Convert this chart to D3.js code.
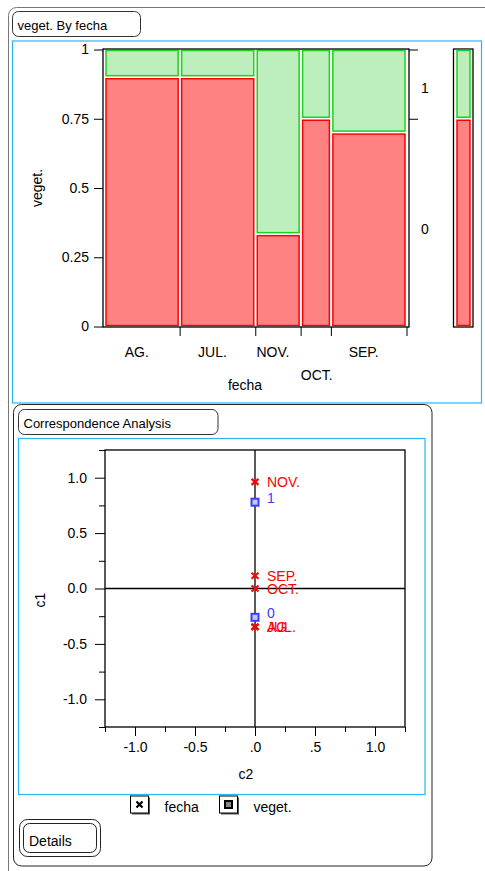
<!DOCTYPE html>
<html>
<head>
<meta charset="utf-8">
<script src="https://cdn.jsdelivr.net/npm/d3@7"></script>
<style>
  body { margin: 0; background: #fff; }
  svg { font-family: "Liberation Sans", Arial, sans-serif; }
  .axis text { font-size: 14px; fill: #000; }
  .axis line, .axis path { stroke: #000; }
</style>
</head>
<body>
<svg id="chart" width="485" height="871"></svg>
<script>
// mosaic data: counts of veget. per fecha
var fecha = ["AG.", "JUL.", "NOV.", "OCT.", "SEP."];
var veget0 = [9, 9, 2, 3, 7];
var veget1 = [1, 1, 4, 1, 3];
var mosaicTicks = [0, 0.25, 0.5, 0.75, 1];
var mosaicTickLabels = ["0", "0.25", "0.5", "0.75", "1"];

// correspondence analysis coordinates (c2, c1)
var fechaPoints = [
  { name: "NOV.", c2: 0, c1: 0.962 },
  { name: "SEP.", c2: 0, c1: 0.115 },
  { name: "OCT.", c2: 0, c1: 0.0 },
  { name: "AG.", c2: 0, c1: -0.346 },
  { name: "JUL.", c2: 0, c1: -0.346 }
];
var vegetPoints = [
  { name: "1", c2: 0, c1: 0.779 },
  { name: "0", c2: 0, c1: -0.26 }
];
var caMajor = [-1, -0.5, 0, 0.5, 1];
var caMajorLabels = ["-1.0", "-0.5", ".0", ".5", "1.0"];
var caMinor = [-1.25, -0.75, -0.25, 0.25, 0.75, 1.25];
var caYLabels = ["-1.0", "-0.5", "0.0", "0.5", "1.0"];

var red = "#ff0000", redFill = "#ff8282", green = "#1ed21e", greenFill = "#bcefbc";
var blue = "#3c3cff";

var svg = d3.select("#chart");

// outer frames
svg.append("rect").attr("x", 8.5).attr("y", 7.5).attr("width", 600).attr("height", 1000)
  .attr("rx", 8).attr("fill", "none").attr("stroke", "#777");

function titleBox(x, y, w, h, label) {
  svg.append("rect").attr("x", x).attr("y", y).attr("width", w).attr("height", h)
    .attr("rx", 6).attr("fill", "#fff").attr("stroke", "#333");
  svg.append("text").attr("x", x + 5).attr("y", y + 18).attr("font-size", 13).text(label);
}
titleBox(12.5, 11.5, 128, 25, "veget. By fecha");
svg.append("rect").attr("x", 12.5).attr("y", 41).attr("width", 469).attr("height", 362)
  .attr("fill", "none").attr("stroke", "#29b6f0").attr("stroke-width", 1.2);

// ---------- mosaic plot ----------
var total = d3.sum(veget0) + d3.sum(veget1);
var cum = [0];
fecha.forEach(function (d, i) { cum.push(cum[i] + (veget0[i] + veget1[i]) / total); });

var x = d3.scaleLinear().domain([0, 1]).range([104, 406.5]);
var y = d3.scaleLinear().domain([0, 1]).range([326.5, 49.5]);

var tiles = svg.append("g");
fecha.forEach(function (d, i) {
  var n = veget0[i] + veget1[i], p0 = veget0[i] / n;
  var x0 = x(cum[i]) + 2, x1 = x(cum[i + 1]) - 1.5;
  tiles.append("rect").attr("x", x0).attr("y", y(p0) + 1.5)
    .attr("width", x1 - x0).attr("height", y(0) - 1 - y(p0) - 1.5)
    .attr("fill", redFill).attr("stroke", red).attr("stroke-width", 1.5);
  tiles.append("rect").attr("x", x0).attr("y", y(1) + 1)
    .attr("width", x1 - x0).attr("height", y(p0) - 1.5 - y(1) - 1)
    .attr("fill", greenFill).attr("stroke", green).attr("stroke-width", 1.5);
});

svg.append("rect").attr("x", 103).attr("y", 49).attr("width", 306).attr("height", 278)
  .attr("fill", "none").attr("stroke", "#000").attr("stroke-width", 1.3);

svg.append("g").attr("class", "axis").attr("transform", "translate(103,0)")
  .call(d3.axisLeft(y).tickValues(mosaicTicks).tickSize(9).tickPadding(5)
    .tickFormat(function (d, i) { return mosaicTickLabels[i]; }))
  .call(function (g) { g.select(".domain").remove(); });

var overall0 = d3.sum(veget0) / total;
svg.append("g").attr("class", "axis").attr("transform", "translate(409,0)")
  .call(d3.axisRight(y).tickValues([overall0, 1]).tickSize(9).tickFormat(""))
  .call(function (g) { g.select(".domain").remove(); });
svg.append("text").attr("x", 425).attr("y", y((overall0 + 1) / 2) + 9)
  .attr("text-anchor", "middle").attr("font-size", 14).text("1");
svg.append("text").attr("x", 425).attr("y", y(overall0 / 2) + 11)
  .attr("text-anchor", "middle").attr("font-size", 14).text("0");

svg.append("g").attr("class", "axis").attr("transform", "translate(0,327)")
  .call(d3.axisBottom(x).tickValues(cum.slice(1)).tickSize(9).tickFormat(""))
  .call(function (g) { g.select(".domain").remove(); });

// x labels, staggered when they get too close
var lastRight = -1e9;
fecha.forEach(function (d, i) {
  var cx = (x(cum[i]) + x(cum[i + 1])) / 2;
  var t = svg.append("text").attr("text-anchor", "middle").attr("font-size", 14).text(d);
  var w = t.node().getComputedTextLength();
  if (cx - w / 2 < lastRight + 14) {
    t.attr("x", cx + 1).attr("y", 380);
  } else {
    t.attr("x", cx - 5).attr("y", 357);
    lastRight = cx - 5 + w / 2;
  }
});
svg.append("text").attr("x", 245).attr("y", 390).attr("text-anchor", "middle")
  .attr("font-size", 14).text("fecha");
svg.append("text").attr("transform", "translate(42,188) rotate(-90)")
  .attr("text-anchor", "middle").attr("font-size", 14).text("veget.");

// side bar (overall)
svg.append("rect").attr("x", 453.5).attr("y", 49).attr("width", 19.5).attr("height", 278)
  .attr("fill", "none").attr("stroke", "#000").attr("stroke-width", 1.3);
svg.append("rect").attr("x", 457).attr("y", y(overall0) + 1.5).attr("width", 13)
  .attr("height", y(0) - 1 - y(overall0) - 1.5)
  .attr("fill", redFill).attr("stroke", red).attr("stroke-width", 1.5);
svg.append("rect").attr("x", 457).attr("y", y(1) + 1).attr("width", 13)
  .attr("height", y(overall0) - 1.5 - y(1) - 1)
  .attr("fill", greenFill).attr("stroke", green).attr("stroke-width", 1.5);

// ---------- correspondence analysis ----------
svg.append("rect").attr("x", 13.5).attr("y", 404.5).attr("width", 418.5).attr("height", 461.5)
  .attr("rx", 8).attr("fill", "#fff").attr("stroke", "#222");
titleBox(18.5, 409.5, 199.5, 25, "Correspondence Analysis");
svg.append("rect").attr("x", 18.5).attr("y", 438.5).attr("width", 406.5).attr("height", 356)
  .attr("fill", "none").attr("stroke", "#29b6f0").attr("stroke-width", 1.2);

var x2 = d3.scaleLinear().domain([-1.25, 1.25]).range([105, 405]);
var y2 = d3.scaleLinear().domain([-1.25, 1.25]).range([727, 450]);

svg.append("rect").attr("x", 105).attr("y", 450).attr("width", 300).attr("height", 277)
  .attr("fill", "none").attr("stroke", "#000").attr("stroke-width", 1.3);

svg.append("g").attr("class", "axis").attr("transform", "translate(0,727)")
  .call(d3.axisBottom(x2).tickValues(caMajor).tickSize(9).tickPadding(6)
    .tickFormat(function (d, i) { return caMajorLabels[i]; }))
  .call(function (g) { g.select(".domain").remove(); });
svg.append("g").attr("class", "axis").attr("transform", "translate(0,727)")
  .call(d3.axisBottom(x2).tickValues(caMinor).tickSize(5).tickFormat(""))
  .call(function (g) { g.select(".domain").remove(); });
svg.append("g").attr("class", "axis").attr("transform", "translate(105,0)")
  .call(d3.axisLeft(y2).tickValues(caMajor).tickSize(10).tickPadding(8)
    .tickFormat(function (d, i) { return caYLabels[i]; }))
  .call(function (g) { g.select(".domain").remove(); });
svg.append("g").attr("class", "axis").attr("transform", "translate(105,0)")
  .call(d3.axisLeft(y2).tickValues(caMinor).tickSize(6).tickFormat(""))
  .call(function (g) { g.select(".domain").remove(); });

// zero lines
svg.append("line").attr("x1", x2(0)).attr("x2", x2(0)).attr("y1", 450).attr("y2", 727)
  .attr("stroke", "#000").attr("stroke-width", 1.3);
svg.append("line").attr("x1", 105).attr("x2", 405).attr("y1", y2(0)).attr("y2", y2(0))
  .attr("stroke", "#000").attr("stroke-width", 1.3);

svg.append("text").attr("x", 246).attr("y", 779).attr("text-anchor", "middle")
  .attr("font-size", 14).text("c2");
svg.append("text").attr("transform", "translate(45,600) rotate(-90)")
  .attr("text-anchor", "middle").attr("font-size", 14).text("c1");

// fecha points (x marks)
var fp = svg.append("g").selectAll("g").data(fechaPoints).enter().append("g")
  .attr("transform", function (d) { return "translate(" + x2(d.c2) + "," + y2(d.c1) + ")"; });
fp.append("path").attr("d", "M-3.5,-3 L3.5,3 M-3.5,3 L3.5,-3")
  .attr("stroke", red).attr("stroke-width", 2.2);
fp.append("text").attr("x", 12).attr("y", 5).attr("font-size", 14).attr("fill", red)
  .text(function (d) { return d.name; });

// veget points (squares)
var vp = svg.append("g").selectAll("g").data(vegetPoints).enter().append("g")
  .attr("transform", function (d) { return "translate(" + x2(d.c2) + "," + y2(d.c1) + ")"; });
vp.append("rect").attr("x", -3.5).attr("y", -3.5).attr("width", 7).attr("height", 7)
  .attr("fill", "#c8c8ff").attr("stroke", blue).attr("stroke-width", 2);
vp.append("text").attr("x", 12).attr("y", 1).attr("font-size", 14).attr("fill", blue)
  .text(function (d) { return d.name; });

// legend
function legendBox(bx, kind, label) {
  svg.append("rect").attr("x", bx + 1.5).attr("y", 797.5).attr("width", 18).attr("height", 17)
    .attr("fill", "#555");
  svg.append("rect").attr("x", bx).attr("y", 796).attr("width", 18).attr("height", 17)
    .attr("fill", "#fff").attr("stroke", "#000");
  var cx = bx + 9, cy = 804.5;
  if (kind === "x") {
    svg.append("path").attr("d", "M" + (cx - 3) + "," + (cy - 3) + "L" + (cx + 3) + "," + (cy + 3) +
      "M" + (cx - 3) + "," + (cy + 3) + "L" + (cx + 3) + "," + (cy - 3))
      .attr("stroke", "#000").attr("stroke-width", 2.2);
  } else {
    svg.append("rect").attr("x", cx - 3.5).attr("y", cy - 3.5).attr("width", 7).attr("height", 7)
      .attr("fill", "#888").attr("stroke", "#000").attr("stroke-width", 2);
  }
  svg.append("text").attr("x", bx + 34).attr("y", 812).attr("font-size", 14).text(label);
}
legendBox(130.5, "x", "fecha");
legendBox(219.5, "sq", "veget.");

// Details button
svg.append("rect").attr("x", 19.5).attr("y", 819.5).attr("width", 81).attr("height", 37)
  .attr("rx", 8).attr("fill", "#fff").attr("stroke", "#222");
svg.append("rect").attr("x", 23.5).attr("y", 823.5).attr("width", 73).attr("height", 29)
  .attr("rx", 6).attr("fill", "#fff").attr("stroke", "#222");
svg.append("text").attr("x", 29).attr("y", 846).attr("font-size", 14).text("Details");
</script>
</body>
</html>
